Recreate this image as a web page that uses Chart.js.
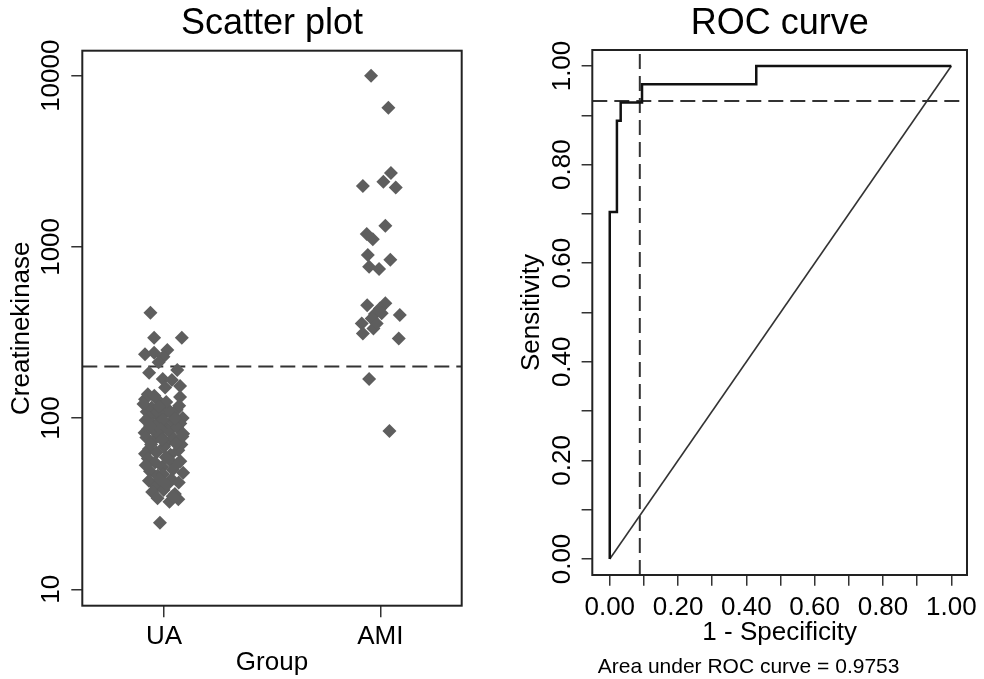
<!DOCTYPE html>
<html>
<head>
<meta charset="utf-8">
<script src="https://cdn.jsdelivr.net/npm/chart.js@4.4.1/dist/chart.umd.min.js"></script>
<style>
  html, body { margin: 0; padding: 0; background: #fff; }
  #izq { position: absolute; left: 0; top: 0; width: 490px; height: 679px; }
  #der { position: absolute; left: 490px; top: 0; width: 494px; height: 679px; }
</style>
</head>
<body>
<div id="izq"><canvas id="scatterChart" width="490" height="679"></canvas></div>
<div id="der"><canvas id="rocChart" width="494" height="679"></canvas></div>
<script>
// --- datos del gráfico de dispersión ---
const grupos = ["UA", "AMI"];
const grupoPos = [1, 2];
const ejeYTicks = [10, 100, 1000, 10000];
const corteCK = 200;

const uaJitter = [
  0.937, 0.954, 1.082, 0.912, 0.954, 1.015, 0.997, 0.975,
  0.931, 1.061, 0.994, 1.036, 1.074, 1.005, 1.074, 0.912, 0.969, 0.925, 0.955,
  0.920, 1.020, 1.086, 1.044, 0.942, 0.989, 1.058, 0.905, 0.962, 1.010, 1.070, 0.930, 0.975, 1.032,
  0.915, 0.948, 0.978, 1.005, 1.040, 1.075, 0.925, 0.960, 0.995, 1.022, 1.060, 1.088, 0.935, 0.985, 1.050, 0.910,
  0.918, 0.950, 0.982, 1.012, 1.046, 1.080, 0.930, 0.965, 1.000, 1.030, 1.066, 1.085, 0.912, 0.990, 1.055, 0.940,
  0.925, 0.958, 0.992, 1.025, 1.060, 1.088, 0.935, 0.970, 1.008, 1.040, 1.075, 0.915, 0.995,
  0.930, 0.962, 0.998, 1.035, 1.068, 0.945, 1.015, 1.050, 0.980,
  0.981, 1.025, 1.066, 0.970, 1.040
];
const uaCK = [
  413, 295, 295, 236, 241, 250, 228, 212,
  184, 191, 169, 167, 154, 151, 133, 129, 128, 138, 135,
  109, 112, 100, 103, 115, 103, 112, 121, 106, 124, 118, 101, 117, 107,
  97, 92, 95, 89, 96, 93, 86, 83, 98, 84, 88, 81, 90, 86, 99, 82,
  77, 74, 79, 72, 76, 70, 66, 63, 68, 61, 65, 78, 62, 75, 71, 70,
  58, 55, 52, 57, 54, 48, 49, 46, 59, 50, 56, 53, 47,
  43, 40, 38, 44, 42, 37, 41, 36, 44,
  24.5, 32.5, 33.6, 34, 35
];
const amiJitter = [
  1.957, 2.037, 2.049, 1.919, 2.014, 2.071, 2.023, 1.937, 1.965,
  1.942, 2.046, 1.948, 1.994, 1.939, 2.023, 2.090, 1.998, 1.975,
  1.960, 1.914, 1.968, 1.919, 2.085, 1.948, 2.042, 2.006, 1.983
];
const amiCK = [
  10000, 6500, 2700, 2270, 2400, 2220, 1330, 1190, 1107,
  897, 842, 766, 743, 457, 468, 400, 437, 405,
  382, 357, 334, 312, 292, 169, 84, 410, 357
];

// --- datos de la curva ROC ---
const rocFpr = [0, 0, 0.021, 0.021, 0.032, 0.032, 0.0945, 0.0945, 0.429, 0.429, 1];
const rocTpr = [0, 0.704, 0.704, 0.889, 0.889, 0.926, 0.926, 0.963, 0.963, 1, 1];
const rocTicks = [0, 0.1, 0.2, 0.3, 0.4, 0.5, 0.6, 0.7, 0.8, 0.9, 1];
const rocTickLabels = ["0.00", "", "0.20", "", "0.40", "", "0.60", "", "0.80", "", "1.00"];
const corteSens = 0.929;
const corteFpr = 0.088;
const areaROC = "0.9753";

// limites de los ejes
const scX = [0.622, 2.376], scY = [8.02, 14000];
const rocX = [-0.0511, 1.046], rocY = [-0.0325, 1.0325];

const FUENTE = "'Liberation Sans', Arial, Helvetica, sans-serif";
const grisPunto = "#5e5e5e";
const grisLinea = "#333333";

// dibuja el marco y las etiquetas giradas del eje y
function marcoYEtiquetas(xCentro, etiquetas, extra) {
  return {
    id: "marcoYEtiquetas",
    afterDraw(chart) {
      const ctx = chart.ctx;
      const a = chart.chartArea;
      const ey = chart.scales.y;
      ctx.save();
      ctx.strokeStyle = "#222";
      ctx.lineWidth = 2;
      ctx.strokeRect(a.left, a.top, a.right - a.left, a.bottom - a.top);
      ctx.fillStyle = "#000";
      ctx.font = "26px " + FUENTE;
      ctx.textAlign = "center";
      ctx.textBaseline = "middle";
      ey.ticks.forEach((t, i) => {
        const lbl = etiquetas[i];
        if (!lbl) return;
        const y = ey.getPixelForValue(t.value);
        ctx.save();
        ctx.translate(xCentro, y);
        ctx.rotate(-Math.PI / 2);
        ctx.fillText(lbl, 0, 0);
        ctx.restore();
      });
      if (extra) extra(ctx, chart);
      ctx.restore();
    }
  };
}

function marcasEje(len) {
  return { drawOnChartArea: false, drawTicks: true, tickLength: len, color: grisLinea, lineWidth: 1.5 };
}

// gráfico de dispersión (escala log)
new Chart(document.getElementById("scatterChart").getContext("2d"), {
  type: "scatter",
  data: {
    datasets: [
      {
        label: "UA",
        data: uaCK.map((v, i) => ({ x: uaJitter[i], y: v })),
        pointStyle: "rectRot", pointRadius: 7, borderWidth: 0,
        backgroundColor: grisPunto
      },
      {
        label: "AMI",
        data: amiCK.map((v, i) => ({ x: amiJitter[i], y: v })),
        pointStyle: "rectRot", pointRadius: 7, borderWidth: 0,
        backgroundColor: grisPunto
      },
      {
        type: "line",
        label: "corte",
        data: [{ x: scX[0], y: corteCK }, { x: scX[1], y: corteCK }],
        borderColor: grisLinea, borderWidth: 2, borderDash: [15, 7],
        pointRadius: 0, fill: false
      }
    ]
  },
  options: {
    responsive: false,
    animation: false,
    layout: { padding: { left: 0, right: 28.3, top: 0, bottom: 0 } },
    plugins: {
      legend: { display: false },
      tooltip: { enabled: false },
      title: {
        display: true, text: "Scatter plot", fullSize: false,
        color: "#000", font: { family: FUENTE, size: 36, weight: "normal" },
        padding: { top: 2.4, bottom: 5.1 }
      }
    },
    scales: {
      x: {
        type: "linear", min: scX[0], max: scX[1],
        afterBuildTicks: (s) => { s.ticks = grupoPos.map(v => ({ value: v })); },
        afterFit: (s) => { s.height = 73.3; },
        ticks: {
          autoSkip: false, color: "#000", padding: 3.9,
          font: { family: FUENTE, size: 26 },
          callback: (v) => grupos[grupoPos.indexOf(v)] || ""
        },
        grid: marcasEje(11.5),
        border: { display: false },
        title: {
          display: true, text: "Group", color: "#000",
          font: { family: FUENTE, size: 26 }, padding: { top: 0, bottom: 0.4 }
        }
      },
      y: {
        type: "logarithmic", min: scY[0], max: scY[1],
        afterBuildTicks: (s) => { s.ticks = ejeYTicks.map(v => ({ value: v })); },
        afterFit: (s) => { s.width = 82.3; },
        ticks: { display: false },
        grid: marcasEje(11),
        border: { display: false },
        title: {
          display: true, text: "Creatinekinase", color: "#000",
          font: { family: FUENTE, size: 26 }, padding: { top: 6.1, bottom: 0 }
        }
      }
    }
  },
  plugins: [marcoYEtiquetas(52, ejeYTicks.map(String))]
});

// curva ROC
new Chart(document.getElementById("rocChart").getContext("2d"), {
  type: "scatter",
  data: {
    datasets: [
      {
        type: "line", label: "ROC",
        data: rocFpr.map((v, i) => ({ x: v, y: rocTpr[i] })),
        borderColor: "#111", borderWidth: 2.5, pointRadius: 0, fill: false, tension: 0
      },
      {
        type: "line", label: "referencia",
        data: [{ x: 0, y: 0 }, { x: 1, y: 1 }],
        borderColor: grisLinea, borderWidth: 1.6, pointRadius: 0, fill: false
      },
      {
        type: "line", label: "corte sensibilidad",
        data: [{ x: rocX[0], y: corteSens }, { x: rocX[1], y: corteSens }],
        borderColor: grisLinea, borderWidth: 2, borderDash: [15, 7], pointRadius: 0, fill: false
      },
      {
        type: "line", label: "corte 1-especificidad",
        data: [{ x: corteFpr, y: rocY[0] }, { x: corteFpr, y: rocY[1] }],
        borderColor: grisLinea, borderWidth: 2, borderDash: [15, 7], pointRadius: 0, fill: false
      }
    ]
  },
  options: {
    responsive: false,
    animation: false,
    layout: { padding: { left: 0, right: 12.3, top: 0, bottom: 0 } },
    plugins: {
      legend: { display: false },
      tooltip: { enabled: false },
      title: {
        display: true, text: "ROC curve", fullSize: false,
        color: "#000", font: { family: FUENTE, size: 36, weight: "normal" },
        padding: { top: 2.4, bottom: 4.4 }
      }
    },
    scales: {
      x: {
        type: "linear", min: rocX[0], max: rocX[1],
        afterBuildTicks: (s) => { s.ticks = rocTicks.map(v => ({ value: v })); },
        afterFit: (s) => { s.height = 104; },
        ticks: {
          autoSkip: false, color: "#000", padding: 6.7, maxRotation: 0,
          font: { family: FUENTE, size: 26 },
          callback: (v, i) => rocTickLabels[i]
        },
        grid: marcasEje(10.7),
        border: { display: false },
        title: {
          display: true, text: "1 - Specificity", color: "#000",
          font: { family: FUENTE, size: 26 }, padding: { top: 0, bottom: 30.4 }
        }
      },
      y: {
        type: "linear", min: rocY[0], max: rocY[1],
        afterBuildTicks: (s) => { s.ticks = rocTicks.map(v => ({ value: v })); },
        afterFit: (s) => { s.width = 102.3; },
        ticks: { display: false },
        grid: marcasEje(10.7),
        border: { display: false },
        title: {
          display: true, text: "Sensitivity", color: "#000",
          font: { family: FUENTE, size: 26 }, padding: { top: 26.1, bottom: 0 }
        }
      }
    }
  },
  plugins: [marcoYEtiquetas(73, rocTickLabels, (ctx, chart) => {
    // texto del área bajo la curva
    ctx.font = "21px " + FUENTE;
    ctx.textAlign = "left";
    ctx.textBaseline = "middle";
    ctx.fillStyle = "#000";
    ctx.fillText("Area under ROC curve = " + areaROC, 107.7, 667);
  })]
});
</script>
</body>
</html>
